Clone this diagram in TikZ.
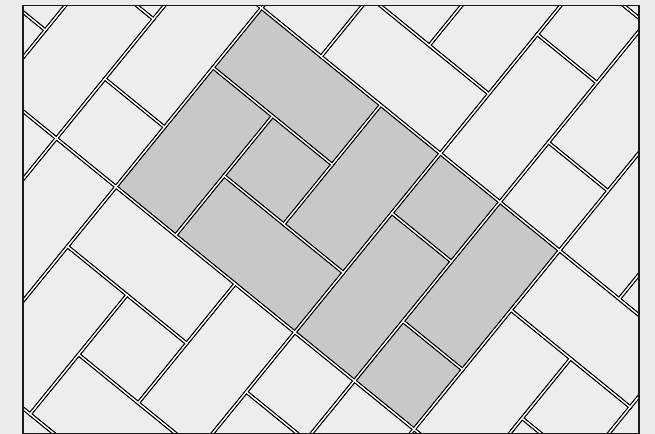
\documentclass[tikz,border=0pt]{standalone}
\usepackage{tikz}
\definecolor{tilelight}{RGB}{237,237,235}
\definecolor{tilegray}{RGB}{200,200,200}
\definecolor{pagebg}{RGB}{236,236,234}
\tikzset{
  groutdark/.style={draw=black, line width=2.65pt, line join=miter},
  groutlight/.style={draw=white, line width=0.85pt, line join=miter},
  framebox/.style={draw=black!90, line width=1.1pt},
  lattice/.style={shift={(196.125pt,-6pt)}, x={(44.7pt,-36.375pt)}, y={(-36.375pt,-44.7pt)}}
}
\newcommand{\tileset}{0/0/2/1, 0/1/1/3, 1/1/2/2, 1/2/3/3, 2/0/3/2, 3/0/4/1, 3/1/4/3, 4/0/5/2, 4/2/5/3}
\begin{document}
\begin{tikzpicture}[x=0.75pt,y=-0.75pt]
\fill[pagebg] (0,0) rectangle (655,434);
\useasboundingbox (0,0) rectangle (655,434);
\begin{scope}
  \clip (23,5.7) rectangle (639,433.5);
  \begin{scope}[lattice]
    % fills
    \foreach \i in {-1,0,1}{
      \foreach \j in {-2,...,2}{
        \foreach \ra/\rb/\rc/\rd in \tileset{
          \fill[tilelight] ({5*\i+\ra},{3*\j+\rb}) -- ({5*\i+\rc},{3*\j+\rb}) -- ({5*\i+\rc},{3*\j+\rd}) -- ({5*\i+\ra},{3*\j+\rd}) -- cycle;
        }
      }
    }
    \foreach \ra/\rb/\rc/\rd in \tileset{
      \fill[tilegray] (\ra,\rb) -- (\rc,\rb) -- (\rc,\rd) -- (\ra,\rd) -- cycle;
    }
    % dark grout
    \foreach \i in {-1,0,1}{
      \foreach \j in {-2,...,2}{
        \foreach \ra/\rb/\rc/\rd in \tileset{
          \draw[groutdark] ({5*\i+\ra},{3*\j+\rb}) -- ({5*\i+\rc},{3*\j+\rb}) -- ({5*\i+\rc},{3*\j+\rd}) -- ({5*\i+\ra},{3*\j+\rd}) -- cycle;
        }
      }
    }
    % light grout centre
    \foreach \i in {-1,0,1}{
      \foreach \j in {-2,...,2}{
        \foreach \ra/\rb/\rc/\rd in \tileset{
          \draw[groutlight] ({5*\i+\ra},{3*\j+\rb}) -- ({5*\i+\rc},{3*\j+\rb}) -- ({5*\i+\rc},{3*\j+\rd}) -- ({5*\i+\ra},{3*\j+\rd}) -- cycle;
        }
      }
    }
  \end{scope}
\end{scope}
\draw[framebox] (23,5.7) rectangle (639,433.5);
\end{tikzpicture}
\end{document}
